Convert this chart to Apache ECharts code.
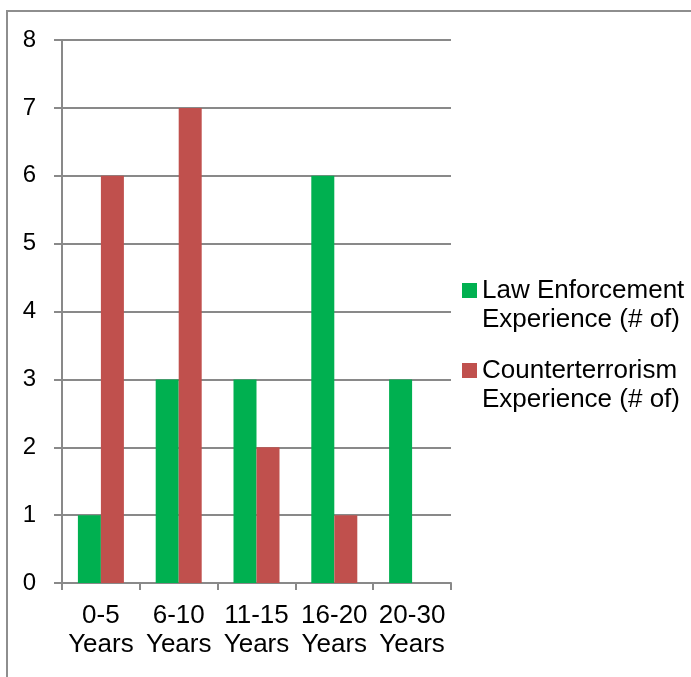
<!DOCTYPE html>
<html>
<head>
<meta charset="utf-8">
<script src="https://cdn.jsdelivr.net/npm/echarts@6/dist/echarts.min.js"></script>
<style>
html,body{margin:0;padding:0;background:#fff;}
#frame{position:absolute;left:6px;top:10px;width:700px;height:700px;border-top:2px solid #8e8e8e;border-left:2px solid #8e8e8e;}
#chart{position:absolute;left:0;top:0;width:691px;height:677px;}
</style>
</head>
<body>
<div id="frame"></div>
<div id="chart"></div>
<script>
const categories = ['0-5\nYears', '6-10\nYears', '11-15\nYears', '16-20\nYears', '20-30\nYears'];
const lawEnforcement = [1, 3, 3, 6, 3];
const counterterrorism = [6, 7, 2, 1, 0];
const seriesNames = ['Law Enforcement\nExperience (# of)', 'Counterterrorism\nExperience (# of)'];
const yTicks = [0, 1, 2, 3, 4, 5, 6, 7, 8];

const FONT = '"Liberation Sans", Arial, sans-serif';
const GREY = '#898989';
// legend marker: a square aligned with the first of two text lines
const LEGEND_ICON = 'path://M0,7h15v15h-15Z M0,0h0.01v0.01h-0.01Z M0,58h0.01v0.01h-0.01Z';
const chart = echarts.init(document.getElementById('chart'), null, {renderer: 'canvas'});
chart.setOption({
  animation: false,
  textStyle: {fontFamily: FONT, color: '#000'},
  grid: {left: 62, right: 240, top: 40, bottom: 94, containLabel: false},
  legend: {
    orient: 'vertical',
    left: 462,
    top: 276,
    padding: 0,
    itemWidth: 15,
    itemHeight: 58,
    itemGap: 22,
    icon: LEGEND_ICON,
    textStyle: {fontFamily: FONT, fontSize: 26, color: '#000', lineHeight: 29},
    data: seriesNames
  },
  xAxis: {
    type: 'category',
    data: categories,
    axisLine: {lineStyle: {color: GREY, width: 2}},
    axisTick: {show: true, length: 7, lineStyle: {color: GREY, width: 2}},
    axisLabel: {fontFamily: FONT, fontSize: 26, color: '#000', lineHeight: 29, margin: 18, interval: 0}
  },
  yAxis: {
    type: 'value',
    min: yTicks[0],
    max: yTicks[yTicks.length - 1],
    interval: 1,
    axisLine: {show: true, lineStyle: {color: GREY, width: 2}},
    axisTick: {show: true, length: 8, lineStyle: {color: GREY, width: 2}},
    splitLine: {lineStyle: {color: GREY, width: 2}},
    axisLabel: {fontFamily: FONT, fontSize: 24, color: '#000', margin: 26}
  },
  series: [
    {name: seriesNames[0], type: 'bar', data: lawEnforcement, barWidth: 23, barGap: '0%', itemStyle: {color: '#00B050'}},
    {name: seriesNames[1], type: 'bar', data: counterterrorism, barWidth: 23, barGap: '0%', itemStyle: {color: '#C0504D'}}
  ]
});
</script>
</body>
</html>
